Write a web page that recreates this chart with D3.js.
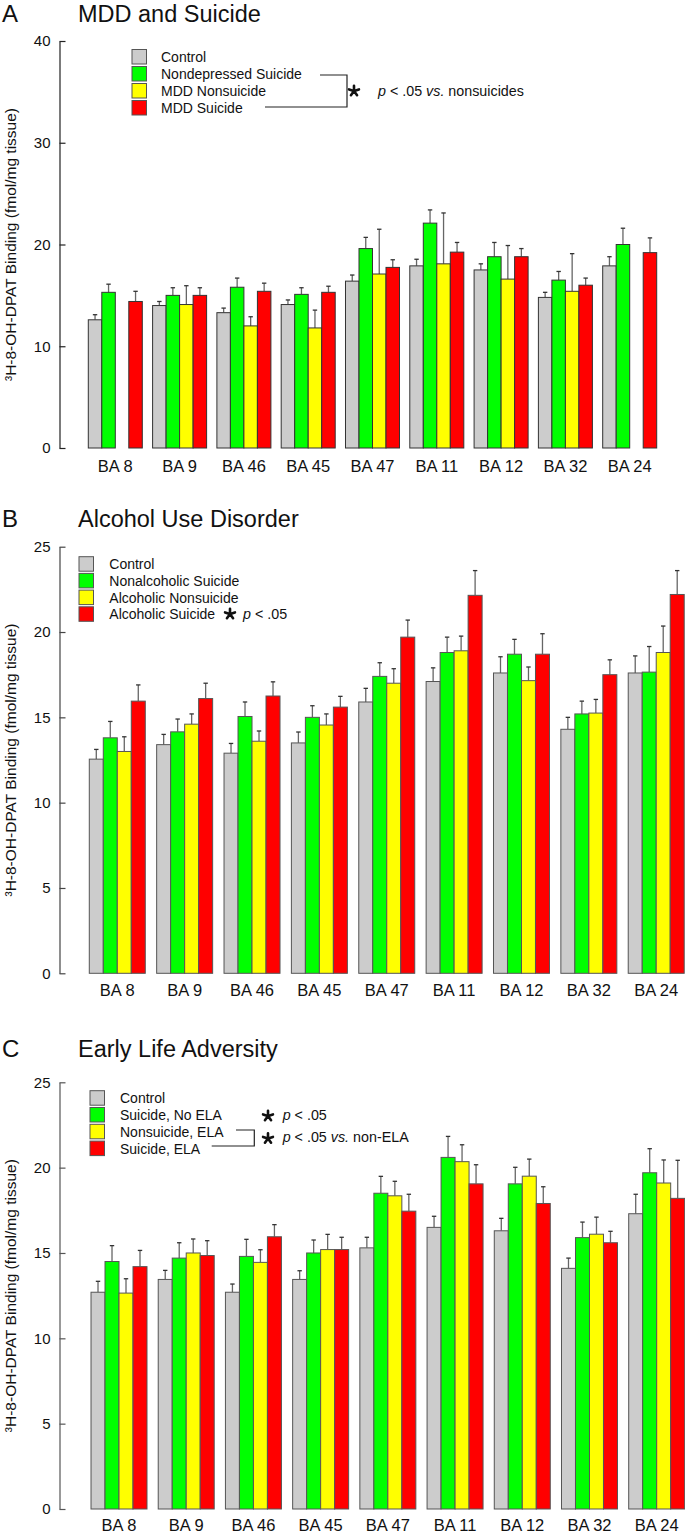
<!DOCTYPE html>
<html>
<head>
<meta charset="utf-8">
<script src="https://cdn.jsdelivr.net/npm/d3@7"></script>
<style>
  html, body { margin: 0; padding: 0; background: #fff; }
  svg { display: block; font-family: "Liberation Sans", Arial, sans-serif; }
</style>
</head>
<body>
<svg id="chart" width="685" height="1534"></svg>
<script>
// ---------- DATA ----------
const regions = ["BA 8", "BA 9", "BA 46", "BA 45", "BA 47", "BA 11", "BA 12", "BA 32", "BA 24"];
const seriesKeys = ["s1", "s2", "s3", "s4"];
const seriesColors = ["#cccccc", "#00ff00", "#ffff00", "#ff0000"];

// Panel A: MDD and Suicide
const labelsA = ["Control", "Nondepressed Suicide", "MDD Nonsuicide", "MDD Suicide"];
const controlA = [12.6, 14.0, 13.3, 14.1, 16.4, 17.9, 17.5, 14.8, 17.9];
const controlA_err = [0.5, 0.4, 0.45, 0.45, 0.6, 0.65, 0.6, 0.5, 0.9];
const nondepSuicideA = [15.3, 15.0, 15.8, 15.1, 19.6, 22.1, 18.8, 16.5, 20.0];
const nondepSuicideA_err = [0.8, 0.75, 0.9, 0.65, 1.1, 1.3, 1.4, 0.85, 1.6];
const mddNonsuicideA = [null, 14.1, 12.0, 11.8, 17.1, 18.1, 16.6, 15.4, null];
const mddNonsuicideA_err = [null, 1.85, 0.9, 1.75, 4.4, 5.0, 3.3, 3.7, null];
const mddSuicideA = [14.4, 15.0, 15.4, 15.3, 17.75, 19.25, 18.8, 16.0, 19.2];
const mddSuicideA_err = [1.0, 0.75, 0.8, 0.6, 0.75, 0.95, 0.8, 0.7, 1.45];
const ticksA = [0, 10, 20, 30, 40];

// Panel B: Alcohol Use Disorder
const labelsB = ["Control", "Nonalcoholic Suicide", "Alcoholic Nonsuicide", "Alcoholic Suicide"];
const controlB = [12.55, 13.4, 12.9, 13.5, 15.9, 17.1, 17.6, 14.3, 17.6];
const controlB_err = [0.57, 0.6, 0.57, 0.64, 0.8, 0.8, 0.95, 0.7, 1.0];
const nonalcSuicideB = [13.8, 14.15, 15.05, 15.0, 17.4, 18.8, 18.7, 15.2, 17.65];
const nonalcSuicideB_err = [0.96, 0.75, 0.85, 0.68, 0.8, 0.9, 0.87, 0.75, 1.5];
const alcNonsuicideB = [13.0, 14.6, 13.6, 14.55, 17.0, 18.9, 17.15, 15.25, 18.8];
const alcNonsuicideB_err = [0.86, 0.6, 0.6, 0.65, 0.85, 0.86, 0.8, 0.8, 1.55];
const alcSuicideB = [15.95, 16.1, 16.25, 15.6, 19.7, 22.15, 18.7, 17.5, 22.2];
const alcSuicideB_err = [0.95, 0.9, 0.83, 0.63, 1.0, 1.45, 1.2, 0.87, 1.4];
const ticksB = [0, 5, 10, 15, 20, 25];

// Panel C: Early Life Adversity
const labelsC = ["Control", "Suicide, No ELA", "Nonsuicide, ELA", "Suicide, ELA"];
const controlC = [12.7, 13.45, 12.7, 13.45, 15.3, 16.5, 16.3, 14.1, 17.3];
const controlC_err = [0.64, 0.53, 0.48, 0.51, 0.62, 0.65, 0.73, 0.6, 1.14];
const suicideNoElaC = [14.5, 14.7, 14.8, 15.0, 18.5, 20.6, 19.05, 15.9, 19.7];
const suicideNoElaC_err = [0.93, 0.9, 1.0, 0.76, 0.99, 1.23, 0.97, 0.91, 1.41];
const nonsuicideElaC = [12.65, 15.0, 14.45, 15.2, 18.35, 20.35, 19.5, 16.1, 19.1];
const nonsuicideElaC_err = [0.84, 0.82, 0.74, 0.89, 0.85, 0.99, 1.0, 1.0, 1.35];
const suicideElaC = [14.2, 14.85, 15.95, 15.2, 17.45, 19.05, 17.9, 15.6, 18.2];
const suicideElaC_err = [0.95, 0.87, 0.71, 0.72, 0.99, 1.12, 0.98, 0.67, 2.23];
const ticksC = [0, 5, 10, 15, 20, 25];

const yLabel = "³H-8-OH-DPAT Binding (fmol/mg tissue)";

// ---------- DRAW ----------
const svg = d3.select("#chart");
const FONT = "'Liberation Sans', Arial, sans-serif";
const axisX = 59.5;

function buildRows(vals, errs) {
  return regions.map((r, i) => ({
    region: r,
    values: vals.map(v => v[i]),
    errs: errs.map(e => e[i])
  }));
}

function drawPanel(p) {
  const g = svg.append("g");
  const y = d3.scaleLinear().domain([0, p.yMax]).range([p.yBottom, p.yTop]);
  const x0 = d3.scaleBand().domain(regions).range(p.xRange)
    .paddingInner(p.padIn).paddingOuter(p.padIn / 2);
  const x1 = d3.scaleBand().domain(seriesKeys).range([0, x0.bandwidth()]).padding(0);
  const rows = buildRows(p.vals, p.errs);

  // title
  g.append("text").attr("x", 2).attr("y", p.titleY)
    .attr("font-size", 24).attr("fill", "#111").text(p.letter);
  g.append("text").attr("x", 78).attr("y", p.titleY)
    .attr("font-size", 23.5).attr("fill", "#111").text(p.title);

  // y axis
  const ax = g.append("g").attr("transform", `translate(${axisX},0)`)
    .call(d3.axisLeft(y).tickValues(p.ticks).tickSize(-6).tickSizeOuter(0).tickPadding(9));
  ax.selectAll("path.domain").attr("stroke", p.axisColor).attr("stroke-width", 1.2);
  ax.selectAll(".tick line").attr("stroke", p.axisColor).attr("stroke-width", 1.2);
  ax.selectAll(".tick text").attr("font-size", 15).attr("fill", "#111").attr("font-family", FONT);

  // y label
  g.append("text")
    .attr("transform", `translate(16,${(p.yTop + p.yBottom) / 2}) rotate(-90)`)
    .attr("text-anchor", "middle").attr("font-size", 15.5).attr("fill", "#111")
    .text(yLabel);

  // bars
  const grp = g.selectAll("g.grp").data(rows).join("g")
    .attr("transform", d => `translate(${x0(d.region)},0)`);
  const items = grp.selectAll("g.item")
    .data(d => d.values.map((v, i) => ({ key: seriesKeys[i], v, e: d.errs[i], i }))
      .filter(o => o.v !== null))
    .join("g");
  items.append("line")
    .attr("x1", o => x1(o.key) + x1.bandwidth() / 2)
    .attr("x2", o => x1(o.key) + x1.bandwidth() / 2)
    .attr("y1", o => y(o.v)).attr("y2", o => y(o.v + o.e))
    .attr("stroke", "#666").attr("stroke-width", 1.3);
  items.append("line")
    .attr("x1", o => x1(o.key) + x1.bandwidth() / 2 - 2.2)
    .attr("x2", o => x1(o.key) + x1.bandwidth() / 2 + 2.2)
    .attr("y1", o => y(o.v + o.e)).attr("y2", o => y(o.v + o.e))
    .attr("stroke", "#333").attr("stroke-width", 1.3);
  items.append("rect")
    .attr("x", o => x1(o.key))
    .attr("y", o => y(o.v))
    .attr("width", x1.bandwidth())
    .attr("height", o => y(0) - y(o.v))
    .attr("fill", o => seriesColors[o.i])
    .attr("stroke", p.barStroke).attr("stroke-width", 1);

  // x labels
  g.selectAll("text.xl").data(regions).join("text")
    .attr("x", d => x0(d) + x0.bandwidth() / 2)
    .attr("y", p.yBottom + p.xLabelDy)
    .attr("text-anchor", "middle").attr("font-size", 16.5).attr("fill", "#111")
    .text(d => d);

  // legend
  const lg = g.append("g");
  p.labels.forEach((lab, i) => {
    const top = p.legTop + i * p.legStep;
    lg.append("rect").attr("x", p.legX).attr("y", top)
      .attr("width", 14.5).attr("height", 14.5)
      .attr("fill", seriesColors[i]).attr("stroke", "#555").attr("stroke-width", 1);
    lg.append("text").attr("x", p.legX + p.legTextDx).attr("y", top + 12.5)
      .attr("font-size", 14).attr("fill", "#111").text(lab);
  });
  return g;
}

// five-spoke heavy asterisk drawn as a path
function star(g, cx, cy) {
  const r = 5.2;
  let d = "";
  for (let k = 0; k < 5; k++) {
    const a = -Math.PI / 2 + k * 2 * Math.PI / 5;
    d += `M${cx},${cy}L${cx + r * Math.cos(a)},${cy + r * Math.sin(a)}`;
  }
  g.append("path").attr("d", d).attr("stroke", "#111").attr("stroke-width", 2.6)
    .attr("stroke-linecap", "round").attr("fill", "none");
}
function ptext(g, x, yb, rest, vs, tail) {
  const t = g.append("text").attr("x", x).attr("y", yb).attr("font-size", 14.3).attr("fill", "#111");
  t.append("tspan").attr("font-style", "italic").text("p");
  t.append("tspan").text(rest);
  if (vs) {
    t.append("tspan").attr("font-style", "italic").text(vs);
    t.append("tspan").text(tail);
  }
}
function path(g, pts) {
  g.append("path").attr("d", d3.line()(pts)).attr("fill", "none")
    .attr("stroke", "#222").attr("stroke-width", 1.2);
}

// Panel A
const gA = drawPanel({
  letter: "A", title: "MDD and Suicide", titleY: 22,
  yMax: 40, yTop: 41, yBottom: 448, ticks: ticksA,
  xRange: [83.15, 661.85], padIn: 0.16,
  vals: [controlA, nondepSuicideA, mddNonsuicideA, mddSuicideA],
  errs: [controlA_err, nondepSuicideA_err, mddNonsuicideA_err, mddSuicideA_err],
  labels: labelsA, legX: 132, legTop: 49.5, legStep: 17, legTextDx: 29,
  axisColor: "#222", barStroke: "#333", xLabelDy: 24
});
path(gA, [[320, 75], [347, 75], [347, 107], [265, 107]]);
star(gA, 354, 91);
ptext(gA, 378, 96, " < .05 ", "vs.", " nonsuicides");

// Panel B
const gB = drawPanel({
  letter: "B", title: "Alcohol Use Disorder", titleY: 527,
  yMax: 25, yTop: 546.7, yBottom: 973.3, ticks: ticksB,
  xRange: [83.6, 689.9], padIn: 0.169,
  vals: [controlB, nonalcSuicideB, alcNonsuicideB, alcSuicideB],
  errs: [controlB_err, nonalcSuicideB_err, alcNonsuicideB_err, alcSuicideB_err],
  labels: labelsB, legX: 79, legTop: 556.7, legStep: 16.7, legTextDx: 30.3,
  axisColor: "#444", barStroke: "#555", xLabelDy: 23
});
star(gB, 230, 614);
ptext(gB, 243, 618.5, " < .05");

// Panel C
const gC = drawPanel({
  letter: "C", title: "Early Life Adversity", titleY: 1057,
  yMax: 25, yTop: 1082.3, yBottom: 1509, ticks: ticksC,
  xRange: [85.4, 690.3], padIn: 0.167,
  vals: [controlC, suicideNoElaC, nonsuicideElaC, suicideElaC],
  errs: [controlC_err, suicideNoElaC_err, nonsuicideElaC_err, suicideElaC_err],
  labels: labelsC, legX: 90, legTop: 1090.7, legStep: 16.8, legTextDx: 30,
  axisColor: "#555", barStroke: "#555", xLabelDy: 22
});
path(gC, [[236, 1130], [254.3, 1130], [254.3, 1146], [211.7, 1146]]);
star(gC, 268, 1116);
ptext(gC, 282.7, 1120, " < .05");
star(gC, 268, 1138.5);
ptext(gC, 282.7, 1142, " < .05 ", "vs.", " non-ELA");
</script>
</body>
</html>
